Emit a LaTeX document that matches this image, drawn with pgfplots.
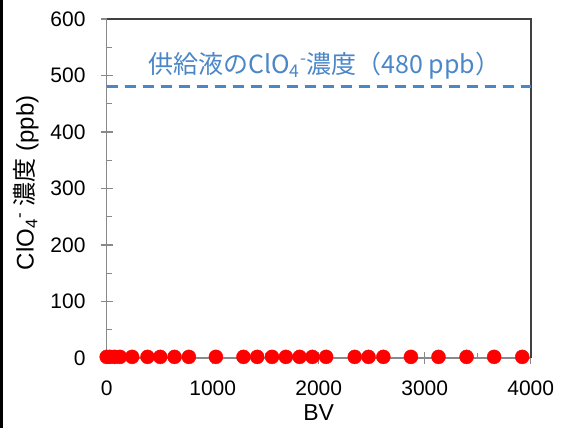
\documentclass[border=0pt]{standalone}
\usepackage{fontspec}
\setmainfont{Liberation Sans}
\newfontfamily\jp{Noto Sans CJK JP}
\usepackage{pgfplots}
\pgfplotsset{compat=1.18}

\definecolor{feedblue}{RGB}{74,134,200}
\definecolor{axisgray}{RGB}{137,137,137}
\definecolor{framegray}{RGB}{64,64,64}

% ClO4- concentration in the effluent versus bed volumes
\pgfplotstableread{
bv   conc
0    2
30   2
75   2
125  2
240  2
385  2
505  2
640  2
775  2
1030 2
1290 2
1420 2
1560 2
1690 2
1820 2
1940 2
2070 2
2340 2
2470 2
2610 2
2870 2
3130 2
3395 2
3655 2
3920 2
}\effluent

\begin{document}
\begin{tikzpicture}[x=1pt,y=1pt]
\path[use as bounding box] (0,0) rectangle (564,428);
\fill[black] (0,0) rectangle (2.5,428);
\begin{axis}[
  at={(106.7pt,70pt)}, anchor=south west,
  width=424pt, height=339pt, scale only axis,
  xmin=0, xmax=4000, ymin=0, ymax=600,
  xtick={0,1000,...,4000}, ytick={0,100,...,600},
  minor x tick num=1, minor y tick num=1,
  tick pos=left,
  axis line style={draw=none},
  tick align=inside,
  major tick length=12pt, minor tick length=5pt,
  major x tick style={yshift=-6pt},
  major y tick style={xshift=-6pt},
  tick style={axisgray, line width=1.1pt},
  clip=false,
  tick label style={font=\fontsize{21}{25}\selectfont},
  /pgf/number format/assume math mode=true,
  /pgf/number format/set thousands separator={},
  xticklabel style={anchor=base, inner sep=0pt, yshift=-37pt},
  yticklabel style={anchor=east, inner sep=0pt, xshift=-21pt},
  xlabel={BV},
  xlabel style={at={(axis description cs:0.5,-0.183)}, anchor=base,
    inner sep=0pt, font=\fontsize{23}{28}\selectfont},
  ylabel={ClO\textsubscript{4}\textsuperscript{-} {\jp 濃度} (ppb)},
  ylabel style={at={(axis description cs:-0.19,0.517)}, anchor=center,
    inner sep=0pt, font=\fontsize{24}{28}\selectfont},
]
% axis lines in grey, plot frame in dark grey
\draw[axisgray, line width=1.2pt] (rel axis cs:0,0) -- (rel axis cs:0,1);
\draw[axisgray, line width=1.2pt] (rel axis cs:0,0) -- (rel axis cs:1,0);
\draw[framegray, line width=1.6pt] (rel axis cs:0,1) -- (rel axis cs:1,1) -- (rel axis cs:1,0);

% feed concentration
\addplot[feedblue, line width=2.8pt, dash pattern=on 11pt off 7pt]
  coordinates {(0,480) (4000,480)};

% effluent concentration
\addplot[only marks, mark=*, mark size=7pt, mark options={draw=red, fill=red}]
  table[x=bv, y=conc] {\effluent};

\node[anchor=west, text=feedblue, inner sep=0pt,
  font=\jp\fontsize{25}{30}\selectfont] at (axis cs:390,518)
  {供給液のClO\textsubscript{4}\textsuperscript{-}濃度（480 ppb）};
\end{axis}
\end{tikzpicture}
\end{document}
